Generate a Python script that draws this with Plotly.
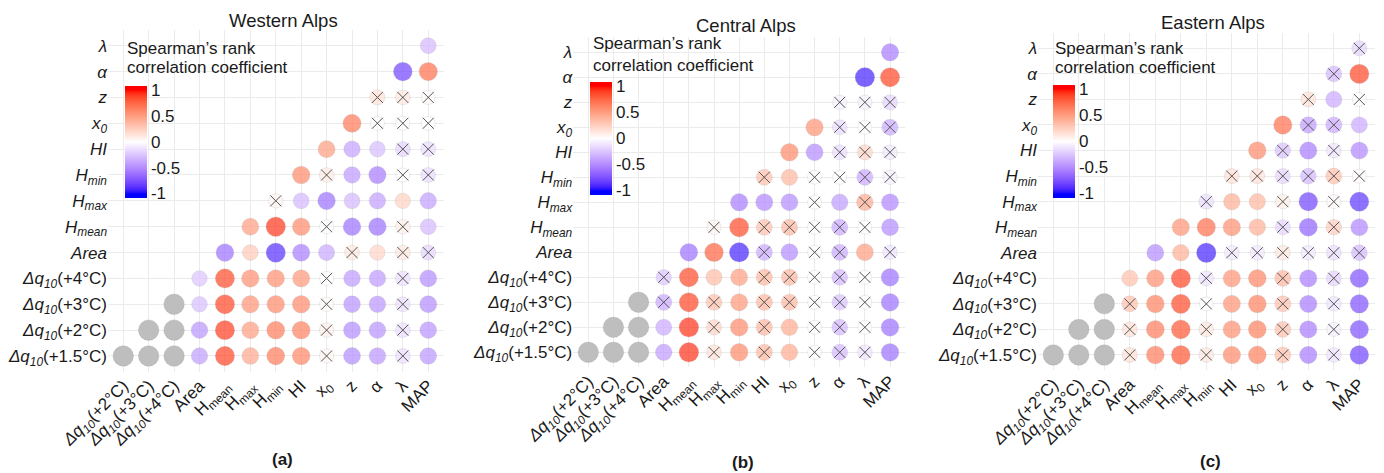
import plotly.graph_objects as go

# ---------------------------------------------------------------------------
# Variables (order of the correlation matrix)
# ---------------------------------------------------------------------------
Y_LABELS = [
    "<i>Δq</i><sub><i>10</i></sub>(+1.5°C)",
    "<i>Δq</i><sub><i>10</i></sub>(+2°C)",
    "<i>Δq</i><sub><i>10</i></sub>(+3°C)",
    "<i>Δq</i><sub><i>10</i></sub>(+4°C)",
    "<i>Area</i>",
    "<i>H</i><sub><i>mean</i></sub>",
    "<i>H</i><sub><i>max</i></sub>",
    "<i>H</i><sub><i>min</i></sub>",
    "<i>HI</i>",
    "<i>x</i><sub><i>0</i></sub>",
    "<i>z</i>",
    "<i>α</i>",
    "<i>λ</i>",
]
X_LABELS = [
    "<i>Δq</i><sub><i>10</i></sub>(+2°C)",
    "<i>Δq</i><sub><i>10</i></sub>(+3°C)",
    "<i>Δq</i><sub><i>10</i></sub>(+4°C)",
    "Area",
    "H<sub>mean</sub>",
    "H<sub>max</sub>",
    "H<sub>min</sub>",
    "HI",
    "x<sub>0</sub>",
    "z",
    "α",
    "λ",
    "MAP",
]

# Spearman rho per row variable (columns after the row variable); None = Δq vs Δq
WEST_R = [
    [None, None, None, -0.42, 0.88, 0.46, 0.66, 0.62, 0.05, -0.50, -0.45, -0.14, -0.45],
    [None, None, -0.46, 0.90, 0.50, 0.66, 0.64, 0.08, -0.50, -0.47, -0.14, -0.47],
    [None, -0.28, 0.88, 0.55, 0.60, 0.60, 0.02, -0.47, -0.45, -0.14, -0.50],
    [-0.25, 0.86, 0.57, 0.57, 0.53, 0.00, -0.44, -0.44, -0.14, -0.50],
    [-0.62, 0.28, -0.88, -0.56, -0.38, 0.13, 0.22, 0.13, -0.18],
    [0.50, 0.92, 0.60, 0.00, -0.62, -0.62, 0.09, -0.31],
    [0.05, -0.31, -0.62, -0.31, -0.41, 0.24, -0.41],
    [0.60, 0.11, -0.44, -0.56, 0.00, -0.15],
    [0.50, -0.40, -0.28, -0.18, -0.15],
    [0.68, 0.00, 0.00, 0.00],
    [0.16, 0.13, 0.02],
    [-0.80, 0.72],
    [-0.31],
]
# 1 = not significant (crossed out)
WEST_NS = [
    [0, 0, 0, 0, 0, 0, 0, 0, 1, 0, 0, 1, 0],
    [0, 0, 0, 0, 0, 0, 0, 1, 0, 0, 1, 0],
    [0, 0, 0, 0, 0, 0, 1, 0, 0, 1, 0],
    [0, 0, 0, 0, 0, 1, 0, 0, 1, 0],
    [0, 0, 0, 0, 0, 1, 0, 1, 1],
    [0, 0, 0, 1, 0, 0, 1, 0],
    [1, 0, 0, 0, 0, 0, 0],
    [0, 1, 0, 0, 1, 1],
    [0, 0, 0, 1, 1],
    [0, 1, 1, 1],
    [1, 1, 1],
    [0, 0],
    [0],
]

CENTRAL_R = [
    [None, None, None, -0.43, 0.93, 0.16, 0.60, 0.38, 0.44, 0.00, -0.31, -0.12, -0.62],
    [None, None, -0.37, 0.93, 0.22, 0.60, 0.38, 0.44, 0.00, -0.31, 0.00, -0.62],
    [None, -0.37, 0.88, 0.33, 0.53, 0.38, 0.38, 0.00, -0.27, 0.00, -0.62],
    [-0.25, 0.86, 0.35, 0.50, 0.38, 0.38, 0.00, -0.31, 0.00, -0.62],
    [-0.62, 0.77, -0.92, -0.37, -0.50, 0.00, -0.37, 0.50, -0.12],
    [0.05, 0.86, 0.33, 0.38, 0.00, -0.37, 0.00, -0.50],
    [-0.56, -0.52, -0.50, 0.00, -0.43, 0.44, -0.52],
    [0.33, 0.38, 0.00, 0.00, -0.37, -0.06],
    [0.60, -0.50, -0.15, 0.22, -0.10],
    [0.55, -0.15, 0.00, -0.37],
    [-0.06, -0.06, -0.18],
    [-0.92, 0.88],
    [-0.56],
]
CENTRAL_NS = [
    [0, 0, 0, 0, 0, 1, 0, 1, 0, 1, 1, 1, 0],
    [0, 0, 0, 0, 1, 0, 1, 0, 1, 1, 1, 0],
    [0, 1, 0, 1, 0, 1, 1, 1, 1, 1, 0],
    [1, 0, 0, 0, 1, 1, 1, 1, 1, 0],
    [0, 0, 0, 1, 0, 1, 1, 0, 1],
    [1, 0, 1, 1, 1, 1, 1, 0],
    [0, 0, 0, 1, 0, 1, 0],
    [1, 0, 1, 1, 1, 1],
    [0, 0, 1, 1, 1],
    [0, 1, 1, 1],
    [1, 1, 1],
    [0, 0],
    [0],
]

EAST_R = [
    [None, None, None, 0.16, 0.66, 0.82, 0.13, 0.60, 0.64, 0.33, -0.56, -0.12, -0.80],
    [None, None, 0.16, 0.66, 0.82, 0.13, 0.57, 0.64, 0.33, -0.56, -0.06, -0.75],
    [None, 0.33, 0.64, 0.86, 0.00, 0.55, 0.64, 0.33, -0.56, -0.12, -0.75],
    [0.33, 0.57, 0.88, -0.12, 0.55, 0.62, 0.38, -0.56, -0.18, -0.75],
    [-0.50, 0.42, -0.92, -0.10, -0.10, 0.13, -0.10, -0.15, -0.31],
    [0.55, 0.72, 0.57, 0.42, -0.18, -0.68, 0.27, -0.52],
    [-0.15, 0.42, 0.38, 0.09, -0.80, 0.02, -0.86],
    [0.16, 0.16, -0.18, -0.31, 0.33, 0.02],
    [0.60, -0.27, -0.56, -0.12, -0.52],
    [0.72, -0.43, -0.37, -0.37],
    [0.16, -0.37, 0.00],
    [-0.31, 0.88],
    [-0.18],
]
EAST_NS = [
    [0, 0, 0, 1, 0, 0, 1, 0, 0, 1, 0, 1, 0],
    [0, 0, 1, 0, 0, 1, 0, 0, 1, 0, 1, 0],
    [0, 1, 0, 0, 1, 0, 0, 1, 0, 1, 0],
    [0, 0, 0, 1, 0, 0, 1, 0, 1, 0],
    [0, 0, 0, 1, 1, 1, 1, 1, 1],
    [0, 0, 0, 0, 1, 0, 1, 0],
    [1, 0, 0, 1, 0, 1, 0],
    [1, 1, 1, 1, 1, 1],
    [0, 1, 0, 1, 0],
    [0, 1, 1, 0],
    [1, 0, 1],
    [1, 0],
    [1],
]

TITLES = ["Western Alps", "Central Alps", "Eastern Alps"]
TAGS = ["(a)", "(b)", "(c)"]

# ---------------------------------------------------------------------------
# Page geometry (pixels)
# ---------------------------------------------------------------------------
W, H = 1384, 473
FONT = "Liberation Sans, Arial, Helvetica, sans-serif"
TXT = "#1a1a1a"

PANEL_BOX = [  # x0, x1, y_top, y_bottom of each plotting region
    (108.0, 443.5, 30.2, 371.5),
    (573.2, 905.1, 37.3, 367.3),
    (1038.0, 1374.6, 33.0, 370.3),
]
TITLE_POS = [(283, 20), (746, 25), (1213, 23)]
TAG_POS = [(282, 459), (743, 462), (1210, 461)]
CBAR_BOX = [  # left, top, length
    (125, 86, 112),
    (590, 82, 113),
    (1053, 85, 113),
]
CBAR_TITLE = [(125, 48, 68), (591, 43, 65), (1053, 48, 68)]


# ---------------------------------------------------------------------------
# Diverging blue-white-red scale interpolated in CIE Lab
# ---------------------------------------------------------------------------
def _lin(c):
    c = c / 255.0
    return c / 12.92 if c <= 0.04045 else ((c + 0.055) / 1.055) ** 2.4


def _gam(c):
    c = 12.92 * c if c <= 0.0031308 else 1.055 * c ** (1 / 2.4) - 0.055
    return max(0, min(255, round(c * 255)))


WHITE_REF = (0.95047, 1.0, 1.08883)


def rgb_to_lab(rgb):
    r, g, b = (_lin(v) for v in rgb)
    x = 0.4124 * r + 0.3576 * g + 0.1805 * b
    y = 0.2126 * r + 0.7152 * g + 0.0722 * b
    z = 0.0193 * r + 0.1192 * g + 0.9505 * b
    f = []
    for v, n in zip((x, y, z), WHITE_REF):
        t = v / n
        f.append(t ** (1 / 3) if t > 0.008856 else 7.787 * t + 16 / 116)
    return (116 * f[1] - 16, 500 * (f[0] - f[1]), 200 * (f[1] - f[2]))


def lab_to_rgb(lab):
    L, a, bb = lab
    fy = (L + 16) / 116
    fx = fy + a / 500
    fz = fy - bb / 200
    out = []
    for f, n in zip((fx, fy, fz), WHITE_REF):
        t = f ** 3 if f ** 3 > 0.008856 else (f - 16 / 116) / 7.787
        out.append(t * n)
    x, y, z = out
    r = 3.2406 * x - 1.5372 * y - 0.4986 * z
    g = -0.9689 * x + 1.8758 * y + 0.0415 * z
    b = 0.0557 * x - 0.2040 * y + 1.0570 * z
    return tuple(_gam(max(0.0, min(1.0, c))) for c in (r, g, b))


LAB_LOW = rgb_to_lab((0, 0, 255))
LAB_MID = rgb_to_lab((255, 255, 255))
LAB_HIGH = rgb_to_lab((255, 0, 0))


def rho_color(v):
    v = max(-1.0, min(1.0, v))
    end = LAB_HIGH if v >= 0 else LAB_LOW
    t = abs(v)
    lab = tuple(m + (e - m) * t for m, e in zip(LAB_MID, end))
    r, g, b = lab_to_rgb(lab)
    return f"rgb({r},{g},{b})"


EXT = 1.087  # colour bar runs slightly past the ±1 ticks
N_STOPS = 61
COLORSCALE = []
for k in range(N_STOPS):
    p = k / (N_STOPS - 1)
    COLORSCALE.append([p, rho_color(-EXT + 2 * EXT * p)])


def size_of(v):
    return 14 + 6 * abs(v)


# ---------------------------------------------------------------------------
# Build figure
# ---------------------------------------------------------------------------
fig = go.Figure()
layout = dict(
    width=W, height=H,
    margin=dict(l=0, r=0, t=0, b=0, autoexpand=False),
    paper_bgcolor="white", plot_bgcolor="white",
    showlegend=False,
    font=dict(family=FONT, color=TXT, size=17),
    annotations=[],
)

panels = [(WEST_R, WEST_NS), (CENTRAL_R, CENTRAL_NS), (EAST_R, EAST_NS)]

for p, (rho_rows, ns_rows) in enumerate(panels):
    sfx = "" if p == 0 else str(p + 1)
    xref, yref = "x" + sfx, "y" + sfx
    cax = "coloraxis" + sfx

    gx, gy = [], []
    cx, cy, cv, cs = [], [], [], []
    nx, ny = [], []
    for i, (row, nsr) in enumerate(zip(rho_rows, ns_rows)):
        for k, (v, ns) in enumerate(zip(row, nsr)):
            j = i + 1 + k  # column variable index (1..13)
            if v is None:
                gx.append(j)
                gy.append(i + 1)
                continue
            cx.append(j)
            cy.append(i + 1)
            cv.append(v)
            cs.append(size_of(v))
            if ns:
                nx.append(j)
                ny.append(i + 1)

    fig.add_trace(go.Scatter(
        x=gx, y=gy, mode="markers", xaxis=xref, yaxis=yref, hoverinfo="skip",
        marker=dict(size=20.5, color="#BEBEBE",
                    line=dict(width=0.5, color="rgba(150,150,150,0.5)")),
    ))
    fig.add_trace(go.Scatter(
        x=cx, y=cy, mode="markers", xaxis=xref, yaxis=yref,
        customdata=cv, hovertemplate="ρ = %{customdata:.2f}<extra></extra>",
        marker=dict(size=cs, color=cv, coloraxis=cax,
                    line=dict(width=0.5, color="rgba(140,140,140,0.45)")),
    ))
    fig.add_trace(go.Scatter(
        x=nx, y=ny, mode="markers", xaxis=xref, yaxis=yref, hoverinfo="skip",
        marker=dict(symbol="x-thin", size=11, color="#555555",
                    line=dict(width=1, color="#555555")),
    ))

    x0, x1, yt, yb = PANEL_BOX[p]
    layout["xaxis" + sfx] = dict(
        domain=[x0 / W, x1 / W], range=[0.4, 13.6], anchor=yref,
        tickmode="array", tickvals=list(range(1, 14)), ticktext=X_LABELS,
        tickangle=-45, showgrid=True, gridcolor="#EBEBEB", gridwidth=1,
        zeroline=False, showline=False, ticks="", automargin=False,
        tickfont=dict(family=FONT, size=17, color=TXT), fixedrange=True,
    )
    layout["yaxis" + sfx] = dict(
        domain=[1 - yb / H, 1 - yt / H], range=[0.4, 13.6], anchor=xref,
        tickmode="array", tickvals=list(range(1, 14)), ticktext=Y_LABELS,
        showgrid=True, gridcolor="#EBEBEB", gridwidth=1,
        zeroline=False, showline=False, ticks="", automargin=False,
        tickfont=dict(family=FONT, size=17, color=TXT), fixedrange=True,
    )

    cbx, cby, cbl = CBAR_BOX[p]
    layout[cax] = dict(
        cmin=-EXT, cmax=EXT, colorscale=COLORSCALE,
        colorbar=dict(
            x=cbx / W, xanchor="left", xref="paper",
            y=1 - cby / H, yanchor="top", yref="paper",
            thicknessmode="pixels", thickness=22,
            lenmode="pixels", len=cbl,
            xpad=0, ypad=0, outlinewidth=0,
            tickmode="array", tickvals=[-1, -0.5, 0, 0.5, 1],
            ticktext=["-1", "-0.5", "0", "0.5", "1"],
            ticks="", ticklen=2,
            tickfont=dict(family=FONT, size=17, color=TXT),
            bgcolor="rgba(0,0,0,0)",
        ),
    )

    tx, ty = TITLE_POS[p]
    layout["annotations"].append(dict(
        text=TITLES[p], x=tx / W, y=1 - ty / H, xref="paper", yref="paper",
        xanchor="center", yanchor="middle", showarrow=False,
        font=dict(family=FONT, size=18.5, color=TXT),
    ))
    gx_, gy_ = TAG_POS[p]
    layout["annotations"].append(dict(
        text="<b>" + TAGS[p] + "</b>", x=gx_ / W, y=1 - gy_ / H,
        xref="paper", yref="paper", xanchor="center", yanchor="middle",
        showarrow=False, font=dict(family=FONT, size=17, color=TXT),
    ))
    ctx, cl1, cl2 = CBAR_TITLE[p]
    for line, ly in (("Spearman’s rank", cl1), ("correlation coefficient", cl2)):
        layout["annotations"].append(dict(
            text=line, x=ctx / W, y=1 - ly / H, xref="paper", yref="paper",
            xanchor="left", yanchor="middle", showarrow=False,
            font=dict(family=FONT, size=17, color=TXT),
        ))

fig.update_layout(**layout)
fig.write_html("out.html")
